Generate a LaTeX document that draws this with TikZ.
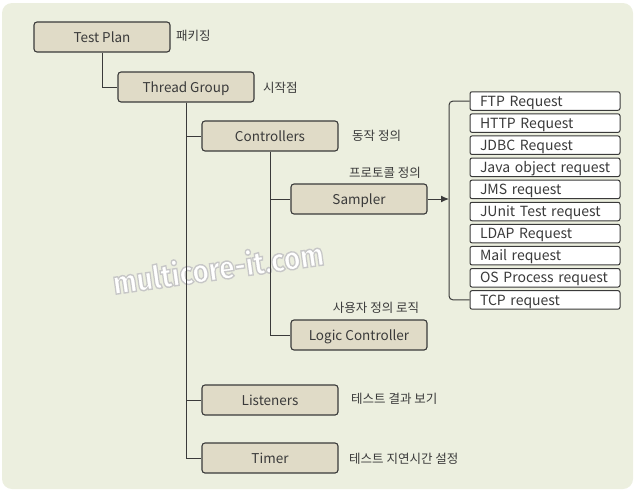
\documentclass[tikz,border=0pt]{standalone}
\usepackage{fontspec}
\setmainfont{Noto Sans CJK KR}
\newfontfamily\markfont{Fira Sans}
\usetikzlibrary{arrows.meta}
\definecolor{bgfill}{HTML}{ECEFDF}
\definecolor{boxfill}{HTML}{E0DBC7}
\definecolor{edge}{HTML}{3A3A3A}
\newcommand{\outlined}[1]{\special{pdf:literal 0.78 0.78 0.78 RG 1.4 w 2 Tr}#1\special{pdf:literal 0 Tr}}

\begin{document}
\begin{tikzpicture}[x=1pt,y=-1pt,
  box/.style={draw=edge,line width=1.1pt,rounded corners=3pt,fill=boxfill,text=edge,
    minimum width=136pt,minimum height=30pt,inner sep=0pt,text height=11pt,text depth=0pt,
    font=\fontsize{13.5}{15}\selectfont},
  req/.style={draw=edge,line width=1pt,rounded corners=2pt,fill=white,text=edge,
    minimum height=18.5pt,text width=150pt,inner sep=0pt,text height=10.2pt,text depth=0pt,
    align=left,font=\fontsize{14}{16}\selectfont},
  note/.style={text=edge,inner sep=0pt,font=\fontsize{12.5}{14}\selectfont},
  link/.style={draw=edge,line width=1pt}]
\useasboundingbox (0,0) rectangle (637,491);
\fill[bgfill,rounded corners=10pt] (2,3) rectangle (633,489);

% watermark
\node[rotate=8,text=white,font=\markfont\bfseries\fontsize{32}{32}\selectfont,xscale=.88] (mark) at (218,267) {\outlined{multicore-it.com}};

% tree
\node[box] (plan) at (102,37) {Test Plan};
\node[box] (group) at (186,87) {Thread Group};
\node[box] (ctrl) at (270,136) {Controllers};
\node[box] (sampler) at (359,199) {Sampler};
\node[box] (logic) at (359,335) {Logic Controller};
\node[box] (listen) at (270,400) {Listeners};
\node[box] (timer) at (270,458) {Timer};

\draw[link] (plan.south) |- (group.west);
\draw[link] (group.south) |- (ctrl.west);
\draw[link] (group.south) |- (listen.west);
\draw[link] (group.south) |- (timer.west);
\draw[link] (ctrl.south) |- (sampler.west);
\draw[link] (ctrl.south) |- (logic.west);

% notes
\node[note,anchor=west] (n1) at (176,36) {패키징};
\node[note,anchor=west] (n2) at (263,88) {시작점};
\node[note,anchor=west] (n3) at (352,136) {동작 정의};
\node[note] (n4) at (385,173) {프로토콜 정의};
\node[note] (n5) at (376,308) {사용자 정의 로직};
\node[note,anchor=west] (n6) at (351,399) {테스트 결과 보기};
\node[note,anchor=west] (n7) at (349,459) {테스트 지연시간 설정};

% samplers
\foreach \t [count=\i] in {FTP Request,HTTP Request,JDBC Request,Java object request,JMS request,JUnit Test request,LDAP Request,Mail request,OS Process request,TCP request}
  \node[req] (r\i) at (545,{101+(\i-1)*22.1}) {\hspace*{10pt}\t};

\coordinate (fork) at (449,199);
\draw[link,rounded corners=4pt] (r1.west) -| (fork) |- (r10.west);
\draw[link,-{Latex[length=8pt,width=7pt]}] (sampler.east) -- (fork);
\end{tikzpicture}
\end{document}
